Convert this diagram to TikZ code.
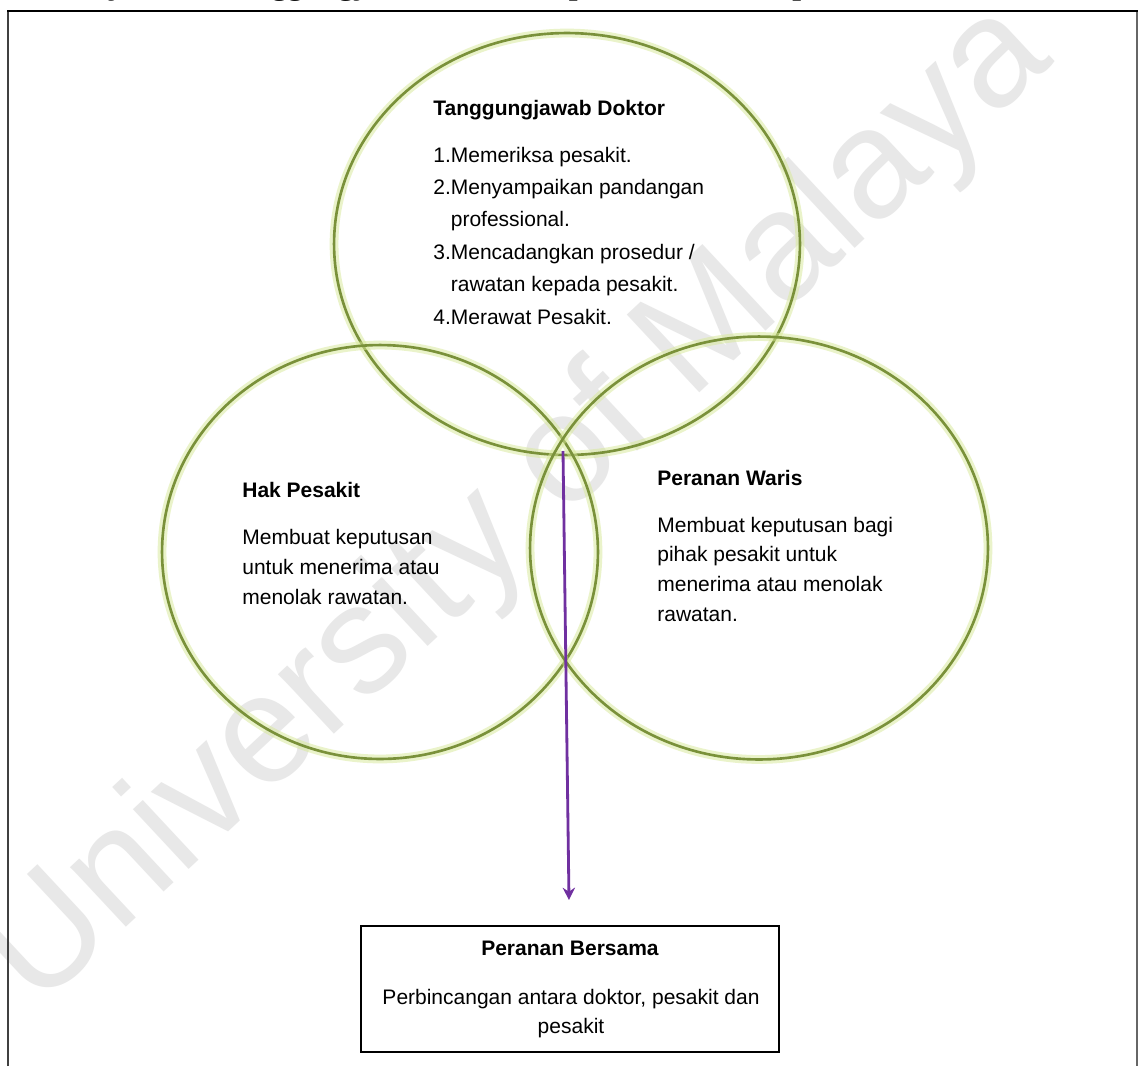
\documentclass[tikz,border=0pt]{standalone}
\usepackage{fontspec}
\setmainfont{Liberation Sans}
\newfontfamily\capfont{Liberation Serif}
\usetikzlibrary{shapes.geometric,arrows.meta}
\definecolor{vgreen}{RGB}{122,145,58}
\definecolor{vglow}{RGB}{215,232,150}
\definecolor{apurple}{RGB}{112,48,160}
\definecolor{wmark}{RGB}{232,232,232}
\begin{document}
\begin{tikzpicture}[x=0.02cm,y=-0.02cm,
  vennc/.style={ellipse, draw=vgreen, line width=1.5pt, inner sep=0pt,
    preaction={draw=vglow, line width=5pt, draw opacity=0.5}},
  txt/.style={font=\fontsize{11.95}{#1}\selectfont, inner sep=0pt, anchor=base west},
  txt/.default=17,
  ttl/.style={font=\bfseries\fontsize{11.95}{14}\selectfont, inner sep=0pt, anchor=base west},
  framebox/.style={draw=black, line width=1.1pt, inner sep=0pt},
  arr/.style={draw=apurple, line width=1.6pt, -{Stealth[length=7pt,width=7pt]}}
]
\useasboundingbox (0,0) rectangle (1139,1066);
\clip (0,0) rectangle (1139,1066);
\fill[white] (0,0) rectangle (1139,1066);

% watermark
\node[font=\fontsize{88}{88}\selectfont, text=wmark, rotate=43, anchor=base west, inner sep=0pt] (wm) at (37,1011) {University of Malaya};

% cut caption line at top
\node[font=\capfont\bfseries\fontsize{17.9}{20}\selectfont, anchor=base west, inner sep=0pt] (cap) at (70,-6) {Rajah 4.1: Tanggungjawab, hak dan peranan doktor, pesakit dan waris};

% frame
\draw[line width=1.1pt, black!75] (8,1066) -- (8,11);
\draw[line width=1.1pt, black!60] (1137,11) -- (1137,1066);
\draw[line width=1.1pt] (7,11) -- (1138,11);

% circles
\node[vennc, minimum width=9.32cm, minimum height=8.44cm] (doc) at (567,244) {};
\node[vennc, minimum width=8.72cm, minimum height=8.28cm] (hak) at (380,552) {};
\node[vennc, minimum width=9.16cm, minimum height=8.46cm] (waris) at (759,548) {};

% doctor text
\node[ttl] (docT) at (433,115) {Tanggungjawab Doktor};
\node[txt=18.48] (docL) at (433,162) {\begin{tabular}[t]{@{}l@{}l@{}}1.&Memeriksa pesakit.\\2.&Menyampaikan pandangan\\&professional.\\3.&Mencadangkan prosedur /\\&rawatan kepada pesakit.\\4.&Merawat Pesakit.\end{tabular}};

% hak pesakit
\node[ttl] (hakT) at (242,497) {Hak Pesakit};
\node[txt=17.3] (hakL) at (242,544) {\begin{tabular}[t]{@{}l@{}}Membuat keputusan\\untuk menerima atau\\menolak rawatan.\end{tabular}};

% peranan waris
\node[ttl] (warT) at (657,485) {Peranan Waris};
\node[txt=16.9] (warL) at (657,532) {\begin{tabular}[t]{@{}l@{}}Membuat keputusan bagi\\pihak pesakit untuk\\menerima atau menolak\\rawatan.\end{tabular}};

% bottom box
\node[framebox, minimum width=8.36cm, minimum height=2.52cm] (box) at (570,989) {};
\node[ttl, anchor=base] (boxT) at (570,955) {Peranan Bersama};
\node[txt=17, anchor=base] (boxL) at (571,1004) {\begin{tabular}[t]{@{}c@{}}Perbincangan antara doktor, pesakit dan\\pesakit\end{tabular}};

% arrow
\coordinate (aS) at (563,451);
\coordinate (aE) at (569,900);
\draw[arr] (aS) -- (aE);
\end{tikzpicture}
\end{document}
